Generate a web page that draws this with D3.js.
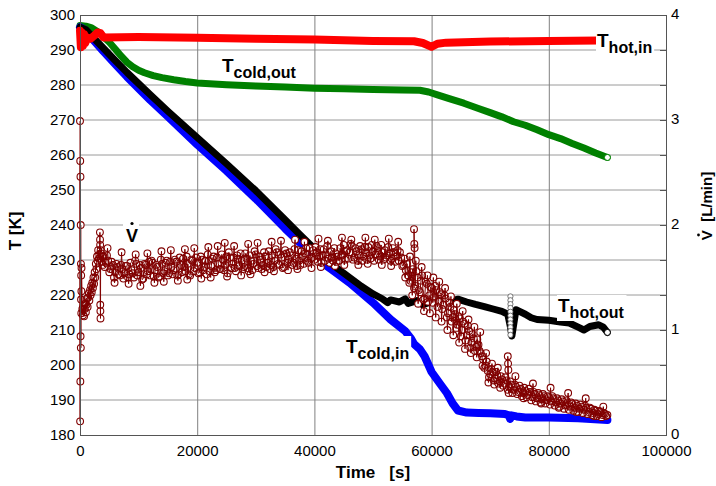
<!DOCTYPE html>
<html>
<head>
<meta charset="utf-8">
<script src="https://cdn.jsdelivr.net/npm/d3@7/dist/d3.min.js"></script>
<style>
  body { margin: 0; background: #fff; }
  svg { display: block; font-family: "Liberation Sans", Arial, sans-serif; }
</style>
</head>
<body>
<div id="chart"></div>
<script>
// ── axis ticks ───────────────────────────────────────────────
const timeTicks = [0, 20000, 40000, 60000, 80000, 100000];
const tempTicks = [180, 190, 200, 210, 220, 230, 240, 250, 260, 270, 280, 290, 300];
const flowTicks = [0, 1, 2, 3, 4];

// ── temperature series: [time s, T K] ────────────────────────
const hotIn = [
  [0, 295.5], [150, 290.8], [300, 295], [500, 291.2], [700, 294.5], [900, 292],
  [1200, 293.6], [1800, 293.2], [2500, 294.2], [3000, 295], [3500, 294.8], [4000, 293.6],
  [10000, 293.7], [20000, 293.5], [30000, 293.2], [40000, 293], [50000, 292.6],
  [57000, 292.5], [58500, 292], [60000, 290.9], [61000, 291.8], [62500, 292.1],
  [70000, 292.4], [80000, 292.6], [88500, 292.7]
];

const coldOut = [
  [0, 297], [1000, 296.8], [2000, 296.3], [3000, 295.2], [4000, 293.8], [5000, 292.2],
  [6000, 290.3], [7000, 288.3], [8000, 286.5], [9000, 285.2], [10000, 284.2],
  [11000, 283.5], [12500, 282.7], [14000, 282.1], [16000, 281.5], [18000, 281],
  [20000, 280.6], [25000, 280.1], [30000, 279.7], [35000, 279.4], [40000, 279.1],
  [45000, 278.9], [50000, 278.7], [55000, 278.6], [58000, 278.5], [59500, 278],
  [61000, 277.2], [63000, 276.1], [65500, 274.8], [68000, 273.3], [70000, 272.1],
  [72000, 270.9], [74000, 269.5], [76000, 268.5], [78000, 267.2], [80000, 265.8],
  [82000, 264.7], [84000, 263.3], [86000, 262], [88000, 260.6], [90000, 259.3]
];

const coldIn = [
  [0, 296.5], [1000, 295.5], [2000, 293.4], [4000, 289.6], [6000, 286], [8000, 282.4],
  [10000, 279], [12000, 275.7], [15000, 271], [20000, 263], [25000, 255.5],
  [30000, 247.5], [35000, 239], [37500, 235], [40000, 230.8], [43000, 227.2],
  [46000, 223.5], [50000, 217.8], [53000, 213], [55500, 209.7], [56500, 207.5],
  [57000, 206], [58000, 204.5], [58800, 202.5], [60000, 198], [61500, 194.5],
  [62600, 192], [63600, 189], [64500, 187], [66000, 186.4], [68000, 186.3],
  [70000, 186.2], [72500, 186], [73200, 185.6], [73400, 184.6], [73600, 185.6],
  [74500, 185.3], [76000, 185], [80000, 185], [85000, 184.8], [90000, 184.3]
];

const hotOut = [
  [0, 296.5], [1000, 295.8], [2000, 294], [4000, 290.5], [6000, 287], [8000, 283.6],
  [10000, 280.4], [12000, 277.2], [15000, 272.5], [20000, 265], [25000, 257.5],
  [30000, 249.8], [35000, 241.5], [37500, 237.3], [40000, 233.2], [42000, 230.2],
  [44000, 227.5], [46000, 225], [48000, 222.5], [50000, 220.3], [51500, 219],
  [52500, 217.8], [53000, 218.6], [54500, 218], [55500, 218.9], [56000, 217.6],
  [57500, 218.4], [58500, 217.2], [59500, 217.8], [60500, 218.5], [61500, 218.8],
  [62500, 219], [63500, 218.4], [64500, 218.8], [66000, 218], [67500, 217.3],
  [69000, 216.7], [70500, 216], [72000, 215.3], [73000, 214.5], [73500, 210.5],
  [73700, 208.3], [74000, 211.5], [74400, 215.8], [75000, 215.3],
  [76000, 214.5], [77000, 213.5], [78000, 213], [80000, 212.8], [82000, 212.3],
  [83500, 212], [85000, 210.8], [86000, 210], [87000, 211], [88500, 211.5],
  [89300, 210.8], [90000, 209.3]
];
// short disturbance of T_hot,out logged as a column of open markers
const hotOutSpike = [
  [73450, 219.6], [73450, 218.5], [73450, 217.4], [73450, 216.3], [73450, 215.2],
  [73450, 214.1], [73450, 213], [73450, 211.9], [73450, 210.8], [73450, 209.7], [73450, 208.6]
];

// ── volume flow [L/min] ──────────────────────────────────────
const flowStart = [
  [0, 2.99], [20, 0.13], [40, 2.61], [60, 0.51], [80, 2.46], [100, 0.94], [120, 2.0],
  [140, 0.83], [160, 1.63], [180, 1.29], [200, 1.52], [220, 1.16], [240, 1.37],
  [260, 1.59], [400, 1.20], [500, 1.14], [600, 1.23], [700, 1.13], [800, 1.20],
  [900, 1.25], [1000, 1.17], [1100, 1.24], [1200, 1.30], [1300, 1.22], [1400, 1.31],
  [1500, 1.35], [1600, 1.28], [1700, 1.38], [1800, 1.33], [1900, 1.42], [2000, 1.36],
  [2100, 1.45], [2200, 1.40], [2300, 1.50], [2400, 1.44], [2500, 1.55], [2600, 1.50],
  [2700, 1.63], [2800, 1.58], [2900, 1.70], [3000, 1.66], [3100, 1.76], [3200, 1.68],
  [3300, 1.72], [3400, 1.93], [3420, 1.86], [3440, 1.81], [3460, 1.24], [3480, 1.18],
  [3500, 1.11], [3520, 1.76], [3600, 1.73], [3700, 1.65], [3800, 1.70], [3900, 1.62]
];
const flowSpikes = [
  [57000, 1.96], [57050, 1.82], [57100, 1.78],
  [73000, 0.75], [73050, 0.68], [73100, 0.62], [73150, 0.40]
];
// readings that stand out above and below the band
const flowScatter = [
  [4700, 1.78], [5900, 1.45], [7100, 1.74], [8300, 1.44], [9500, 1.72], [10300, 1.42],
  [11500, 1.73], [12700, 1.45], [13900, 1.75], [14300, 1.46], [15500, 1.76], [16700, 1.47],
  [17900, 1.77], [18300, 1.48], [19500, 1.78], [20700, 1.49], [21900, 1.79], [22300, 1.50],
  [23500, 1.80], [24700, 1.83], [25100, 1.51], [26300, 1.80], [27500, 1.52], [28700, 1.82],
  [29100, 1.53], [30300, 1.83], [31500, 1.55], [32700, 1.84], [33100, 1.56], [34300, 1.85],
  [35500, 1.57], [36700, 1.86], [37100, 1.58], [38300, 1.84], [39500, 1.59], [40700, 1.87],
  [41100, 1.60], [42300, 1.85], [43500, 1.61], [44700, 1.88], [45100, 1.62], [46300, 1.86],
  [47500, 1.62], [48700, 1.88], [49100, 1.63], [50300, 1.86], [51500, 1.62], [52700, 1.87],
  [53100, 1.61], [54300, 1.84], [55500, 1.50], [56300, 1.70], [56700, 1.33], [57300, 1.66],
  [57700, 1.25], [58300, 1.60], [58700, 1.18], [59300, 1.52], [59700, 1.16], [60300, 1.50],
  [60700, 1.12], [61300, 1.46], [61700, 1.08], [62300, 1.40], [62700, 1.00], [63300, 1.32],
  [63700, 0.95], [64300, 1.25], [64700, 0.88], [65300, 1.18], [65700, 0.82], [66300, 1.10],
  [66700, 0.78], [67300, 1.03], [67700, 0.74], [68300, 0.98], [68700, 0.66], [69300, 0.78],
  [69700, 0.50], [70300, 0.68], [70700, 0.48], [71300, 0.64], [71700, 0.45], [74300, 0.56],
  [75700, 0.35], [77300, 0.49], [78700, 0.30], [80300, 0.45], [81700, 0.26], [83300, 0.40],
  [84700, 0.22], [86300, 0.35], [87700, 0.18], [89300, 0.27]
];
// logged every 400 s from 4000 s
const flowT0 = 4000;
const flowStep = 400;
const flowValues = [
  1.70, 1.64, 1.66, 1.58, 1.62, 1.55, 1.60, 1.52, 1.58, 1.54,
  1.61, 1.53, 1.57, 1.50, 1.63, 1.55, 1.59, 1.49, 1.62, 1.56,
  1.52, 1.64, 1.57, 1.60, 1.51, 1.63, 1.56, 1.66, 1.54, 1.60,
  1.57, 1.65, 1.53, 1.62, 1.68, 1.56, 1.63, 1.52, 1.66, 1.59,
  1.64, 1.55, 1.67, 1.60, 1.53, 1.66, 1.61, 1.70, 1.57, 1.63,
  1.58, 1.67, 1.62, 1.54, 1.69, 1.63, 1.59, 1.71, 1.61, 1.66,
  1.60, 1.68, 1.56, 1.66, 1.63, 1.72, 1.59, 1.67, 1.62, 1.70,
  1.64, 1.58, 1.71, 1.66, 1.74, 1.62, 1.69, 1.60, 1.73, 1.67,
  1.71, 1.64, 1.68, 1.76, 1.62, 1.70, 1.73, 1.66, 1.78, 1.69,
  1.67, 1.74, 1.70, 1.64, 1.77, 1.72, 1.68, 1.75, 1.66, 1.73,
  1.70, 1.78, 1.72, 1.67, 1.76, 1.74, 1.80, 1.69, 1.75, 1.71,
  1.77, 1.70, 1.74, 1.79, 1.68, 1.75, 1.72, 1.78, 1.70, 1.74,
  1.76, 1.71, 1.73, 1.68, 1.74, 1.70, 1.66, 1.69, 1.62, 1.57,
  1.52, 1.47, 1.58, 1.42, 1.50, 1.36, 1.52, 1.30, 1.44, 1.33,
  1.40, 1.31, 1.38, 1.27, 1.34, 1.24, 1.30, 1.16, 1.22, 1.12,
  1.15, 1.05, 1.11, 1.00, 1.06, 0.95, 0.99, 0.88, 0.92, 0.84,
  0.86, 0.78, 0.72, 0.66, 0.61, 0.58, 0.60, 0.54, 0.57, 0.51,
  0.53, 0.49, 0.52, 0.46, 0.48, 0.43, 0.46, 0.41, 0.44, 0.40,
  0.42, 0.38, 0.41, 0.36, 0.39, 0.35, 0.38, 0.34, 0.37, 0.33,
  0.36, 0.32, 0.35, 0.31, 0.33, 0.30, 0.32, 0.28, 0.31, 0.27,
  0.30, 0.26, 0.28, 0.25, 0.27, 0.24, 0.26, 0.22, 0.25, 0.21,
  0.23, 0.20, 0.22, 0.19, 0.20, 0.19
];
// the readings in between, every 400 s from 4200 s
const flowT0b = 4200;
const flowValuesB = [
  1.60, 1.71, 1.55, 1.65, 1.50, 1.63, 1.53, 1.62, 1.49, 1.61,
  1.50, 1.64, 1.54, 1.66, 1.52, 1.62, 1.48, 1.63, 1.53, 1.65,
  1.66, 1.51, 1.62, 1.50, 1.67, 1.54, 1.64, 1.52, 1.65, 1.53,
  1.67, 1.52, 1.69, 1.55, 1.60, 1.70, 1.53, 1.67, 1.56, 1.69,
  1.54, 1.70, 1.57, 1.66, 1.72, 1.56, 1.68, 1.55, 1.69, 1.58,
  1.72, 1.57, 1.70, 1.74, 1.59, 1.69, 1.56, 1.68, 1.73, 1.58,
  1.73, 1.59, 1.71, 1.57, 1.75, 1.61, 1.70, 1.58, 1.74, 1.60,
  1.75, 1.62, 1.60, 1.77, 1.63, 1.72, 1.59, 1.76, 1.64, 1.74,
  1.62, 1.77, 1.61, 1.66, 1.75, 1.63, 1.78, 1.64, 1.68, 1.76,
  1.79, 1.65, 1.77, 1.71, 1.66, 1.80, 1.64, 1.69, 1.78, 1.65,
  1.66, 1.71, 1.81, 1.75, 1.68, 1.82, 1.67, 1.78, 1.66, 1.80,
  1.66, 1.79, 1.67, 1.71, 1.81, 1.66, 1.80, 1.67, 1.81, 1.67,
  1.69, 1.79, 1.66, 1.78, 1.65, 1.76, 1.74, 1.61, 1.68, 1.63,
  1.45, 1.55, 1.40, 1.56, 1.38, 1.47, 1.29, 1.46, 1.27, 1.41,
  1.26, 1.42, 1.22, 1.36, 1.20, 1.33, 1.12, 1.26, 1.08, 1.19,
  1.02, 1.13, 0.94, 1.08, 0.90, 1.04, 0.83, 0.96, 0.80, 0.91,
  0.80, 0.75, 0.64, 0.70, 0.55, 0.63, 0.52, 0.60, 0.49, 0.56,
  0.47, 0.55, 0.43, 0.51, 0.40, 0.48, 0.39, 0.47, 0.37, 0.45,
  0.36, 0.44, 0.33, 0.41, 0.32, 0.40, 0.31, 0.39, 0.30, 0.37,
  0.29, 0.37, 0.28, 0.35, 0.27, 0.34, 0.25, 0.33, 0.24, 0.31,
  0.23, 0.30, 0.22, 0.29, 0.21, 0.28, 0.20, 0.26, 0.19, 0.24,
  0.18, 0.23, 0.17, 0.21, 0.18
];

// ── layout ───────────────────────────────────────────────────
const W = 716, H = 486;
const M = { left: 80, right: 50, top: 15, bottom: 51 };

const svg = d3.select("#chart").append("svg")
  .attr("width", W).attr("height", H);

const x = d3.scaleLinear().domain([0, 100000]).range([M.left, W - M.right]);
const yT = d3.scaleLinear().domain([180, 300]).range([H - M.bottom, M.top]);
const yV = d3.scaleLinear().domain([0, 4]).range([H - M.bottom, M.top]);

const x0 = x.range()[0], x1 = x.range()[1];
const yBot = yT.range()[0], yTop = yT.range()[1];

// ── grid ─────────────────────────────────────────────────────
const grid = svg.append("g");
grid.selectAll("line.h")
  .data(tempTicks.slice(1, -1))
  .join("line")
  .attr("x1", x0).attr("x2", x1)
  .attr("y1", d => yT(d)).attr("y2", d => yT(d))
  .attr("stroke", "#9a9a9a").attr("stroke-width", 1);
grid.selectAll("line.v")
  .data(timeTicks.slice(1, -1))
  .join("line")
  .attr("x1", d => x(d) + 0.5).attr("x2", d => x(d) + 0.5)
  .attr("y1", yTop).attr("y2", yBot)
  .attr("stroke", "#808080").attr("stroke-width", 1);

// ── temperature curves ───────────────────────────────────────
const tLine = d3.line().x(d => x(d[0])).y(d => yT(d[1]));

function drawTemp(data, color, width) {
  svg.append("path")
    .datum(data)
    .attr("d", tLine)
    .attr("fill", "none")
    .attr("stroke", color)
    .attr("stroke-width", width)
    .attr("stroke-linejoin", "round")
    .attr("stroke-linecap", "round");
}

drawTemp(coldOut, "#008000", 7);
drawTemp(coldIn, "#0000ff", 8);
drawTemp(hotOut, "#000000", 7);
drawTemp(hotIn, "#ff0000", 8);

svg.append("g").selectAll("circle")
  .data(hotOutSpike)
  .join("circle")
  .attr("cx", d => x(d[0])).attr("cy", d => yT(d[1])).attr("r", 2.6)
  .attr("fill", "#fff").attr("stroke", "#555").attr("stroke-width", 0.8);

// last logged point of some series shows as an open marker
[[coldOut, "#008000"], [hotOut, "#000000"]].forEach(([data, color]) => {
  const d = data[data.length - 1];
  svg.append("circle")
    .attr("cx", x(d[0])).attr("cy", yT(d[1])).attr("r", 3)
    .attr("fill", "#fff").attr("stroke", color).attr("stroke-width", 1);
});

// ── volume flow ──────────────────────────────────────────────
const flow = flowStart
  .concat(flowValues.map((v, i) => [flowT0 + i * flowStep, v]))
  .concat(flowValuesB.map((v, i) => [flowT0b + i * flowStep, v]))
  .concat(flowScatter)
  .concat(flowSpikes)
  .sort((a, b) => a[0] - b[0]);

const vLine = d3.line().x(d => x(d[0])).y(d => yV(d[1]));

// white marker faces first, then every outline on top so dense stretches read dark
svg.append("g").selectAll("circle")
  .data(flow)
  .join("circle")
  .attr("cx", d => x(d[0]))
  .attr("cy", d => yV(d[1]))
  .attr("r", 3.4)
  .attr("fill", "#fff");

svg.append("path")
  .datum(flow)
  .attr("d", vLine)
  .attr("fill", "none")
  .attr("stroke", "#800000")
  .attr("stroke-width", 1);

svg.append("g").selectAll("circle")
  .data(flow)
  .join("circle")
  .attr("cx", d => x(d[0]))
  .attr("cy", d => yV(d[1]))
  .attr("r", 3.4)
  .attr("fill", "none")
  .attr("stroke", "#800000")
  .attr("stroke-width", 1.1);

// ── frame and axes ───────────────────────────────────────────
svg.append("rect")
  .attr("x", x0 + 0.5).attr("y", yTop + 0.5)
  .attr("width", x1 - x0).attr("height", yBot - yTop)
  .attr("fill", "none").attr("stroke", "#555").attr("stroke-width", 1);

const tickFont = g => g.selectAll("text")
  .attr("font-size", 15)
  .attr("font-family", "'Liberation Sans', Arial, sans-serif")
  .attr("fill", "#000");

svg.append("g")
  .attr("transform", `translate(${x0},0)`)
  .call(d3.axisLeft(yT).tickValues(tempTicks).tickSize(0).tickPadding(5))
  .call(g => g.select(".domain").remove())
  .call(tickFont);

svg.append("g")
  .attr("transform", `translate(0,${yBot})`)
  .call(d3.axisBottom(x).tickValues(timeTicks).tickSize(0).tickPadding(10)
    .tickFormat(d3.format("d")))
  .call(g => g.select(".domain").remove())
  .call(tickFont);

// right axis: a tick at every gridline, labels on whole L/min
const flowMinor = tempTicks.map(t => yV.invert(yT(t)));
svg.append("g")
  .attr("transform", `translate(${x1},0)`)
  .call(d3.axisRight(yV).tickValues(flowMinor).tickSizeInner(-6).tickSizeOuter(0)
    .tickPadding(5)
    .tickFormat(d => {
      const r = Math.round(d);
      return (Math.abs(d - r) < 1e-6 && flowTicks.includes(r)) ? r : "";
    }))
  .call(g => g.select(".domain").remove())
  .call(g => g.selectAll("line").attr("stroke", "#555"))
  .call(g => g.selectAll("text").attr("dy", "0.2em"))
  .call(tickFont);

// ── axis titles ──────────────────────────────────────────────
svg.append("text")
  .attr("transform", `translate(21,${(yTop + yBot) / 2 + 6}) rotate(-90)`)
  .attr("text-anchor", "middle")
  .attr("font-size", 17).attr("font-weight", "bold")
  .text("T [K]");

svg.append("text")
  .attr("x", (x0 + x1) / 2).attr("y", 478)
  .attr("text-anchor", "middle")
  .attr("font-size", 17).attr("font-weight", "bold")
  .style("white-space", "pre")
  .text("Time   [s]");

const vTitle = svg.append("g")
  .attr("transform", `translate(712,206) rotate(-90)`);
vTitle.append("text")
  .attr("text-anchor", "middle")
  .attr("font-size", 15).attr("font-weight", "bold")
  .style("white-space", "pre")
  .text("V  [L/min]");
vTitle.append("circle")
  .attr("cx", -29).attr("cy", -13.5).attr("r", 1.4).attr("fill", "#000");

// ── in-plot series labels ────────────────────────────────────
function seriesLabel(px, py, sub, boxed) {
  const g = svg.append("g");
  const t = g.append("text")
    .attr("x", px).attr("y", py)
    .attr("font-weight", "bold").attr("fill", "#000");
  t.append("tspan").attr("font-size", 19).text("T");
  t.append("tspan").attr("font-size", 16).attr("dy", 6).text(sub);
  if (boxed) {
    const b = t.node().getBBox();
    g.insert("rect", "text")
      .attr("x", b.x - 1).attr("y", b.y)
      .attr("width", b.width + 3).attr("height", b.height)
      .attr("fill", "#fff");
  }
}

seriesLabel(222, 72, "cold,out", false);
seriesLabel(597, 47, "hot,in", true);
seriesLabel(558, 312, "hot,out", true);
seriesLabel(346, 353, "cold,in", true);

// V-dot label
const vg = svg.append("g");
vg.append("rect")
  .attr("x", 123).attr("y", 219).attr("width", 16).attr("height", 25)
  .attr("fill", "#fff");
vg.append("text")
  .attr("x", 126).attr("y", 242)
  .attr("font-size", 18).attr("font-weight", "bold")
  .text("V");
vg.append("circle")
  .attr("cx", 132).attr("cy", 223.5).attr("r", 1.6).attr("fill", "#000");
</script>
</body>
</html>
